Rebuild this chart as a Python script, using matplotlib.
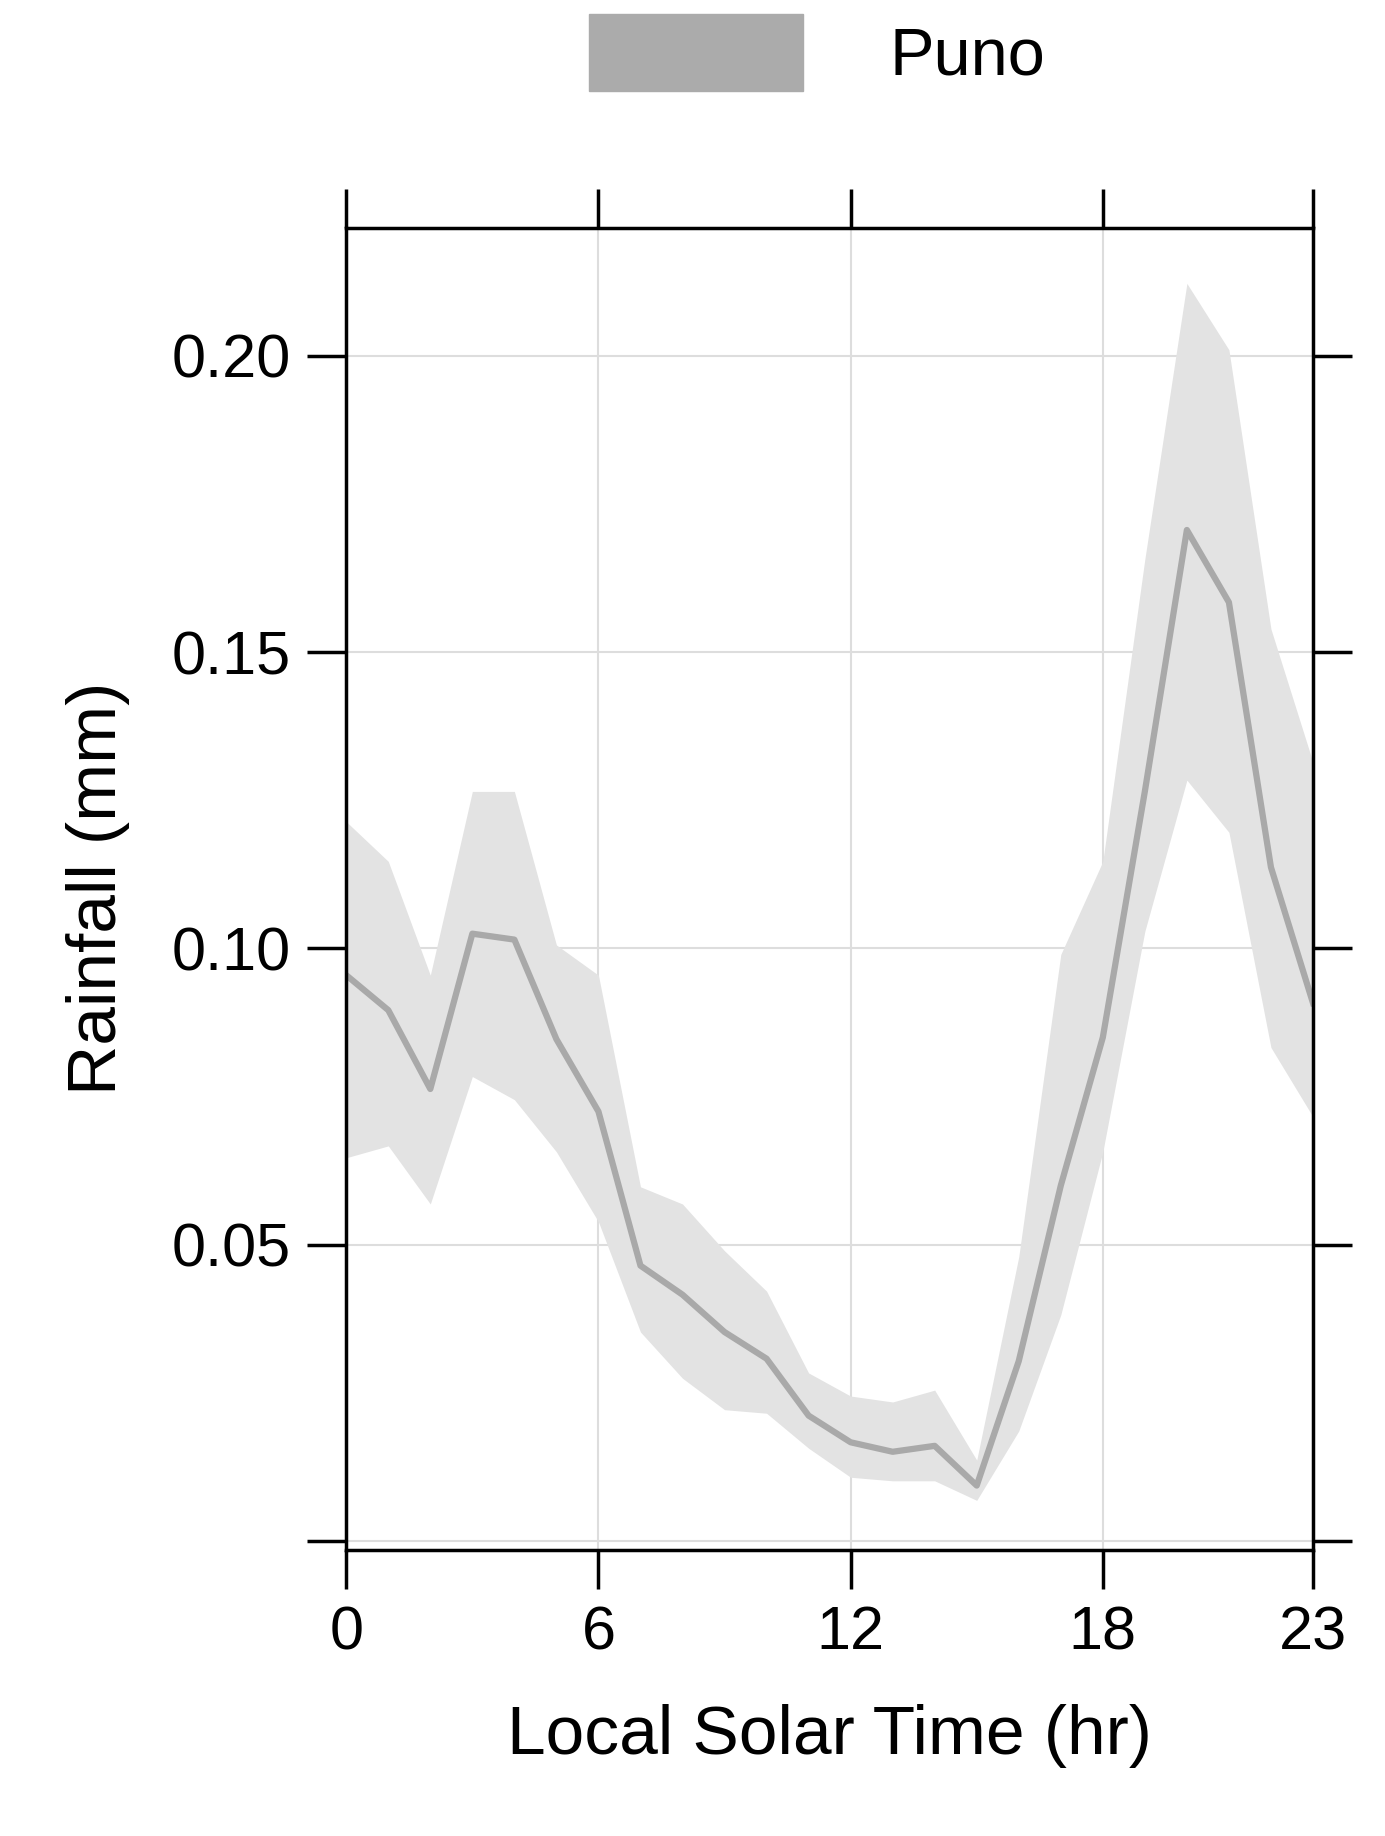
import matplotlib
matplotlib.use("Agg")
import matplotlib.pyplot as plt
from matplotlib.patches import Patch

hours = list(range(24))
mean = [0.0955,0.0896,0.0763,0.1025,0.1015,0.0847,0.0725,0.0465,0.0416,0.0353,0.0308,0.0212,
        0.0167,0.0151,0.0161,0.0094,0.0304,0.0600,0.0850,0.1265,0.1706,0.1584,0.1137,0.0908]
upper = [0.1214,0.1147,0.0955,0.1265,0.1265,0.1006,0.0955,0.0598,0.0569,0.0490,0.0422,0.0284,
         0.0245,0.0235,0.0255,0.0137,0.0480,0.0990,0.1147,0.1657,0.2122,0.2010,0.1539,0.1314]
lower = [0.0647,0.0667,0.0569,0.0784,0.0745,0.0657,0.0539,0.0353,0.0275,0.0222,0.0216,0.0157,
         0.0108,0.0102,0.0102,0.0069,0.0186,0.0382,0.0657,0.1029,0.1284,0.1196,0.0833,0.0716]
xticks = [0, 6, 12, 18, 23]
yticks = [0.0, 0.05, 0.10, 0.15, 0.20]
ylabels = ["", "0.05", "0.10", "0.15", "0.20"]

plt.rcParams['font.family'] = ['Liberation Sans', 'DejaVu Sans']
fig = plt.figure(figsize=(13.85, 18.36), dpi=100)
ax = fig.add_axes([0.25, 0.156, 0.698, 0.72])
ax.fill_between(hours, lower, upper, color='#e3e3e3', lw=0)
ax.plot(hours, mean, color='#a9a9a9', lw=4.5)
ax.set_xlim(0, 23)
ax.set_ylim(-0.0014, 0.2216)
ax.set_xticks(xticks)
ax.set_yticks(yticks)
ax.set_yticklabels(ylabels)
ax.grid(True, color='#dddddd', lw=1.5)
ax.set_axisbelow(True)
ax.tick_params(axis='both', which='both', direction='out', length=28, width=2.5,
               labelsize=44, top=True, right=True, pad=12)
for s in ax.spines.values():
    s.set_linewidth(2.5)
ax.set_xlabel("Local Solar Time (hr)", fontsize=50, labelpad=30)
ax.set_ylabel("Rainfall (mm)", fontsize=50, labelpad=30)
fig.legend(handles=[Patch(color='#ababab', label='Puno')], loc='upper center',
           bbox_to_anchor=(0.59, 1.025), frameon=False, fontsize=48,
           handlelength=3.2, handleheight=1.4, handletextpad=1.3)
fig.savefig("out.png", dpi=100)
